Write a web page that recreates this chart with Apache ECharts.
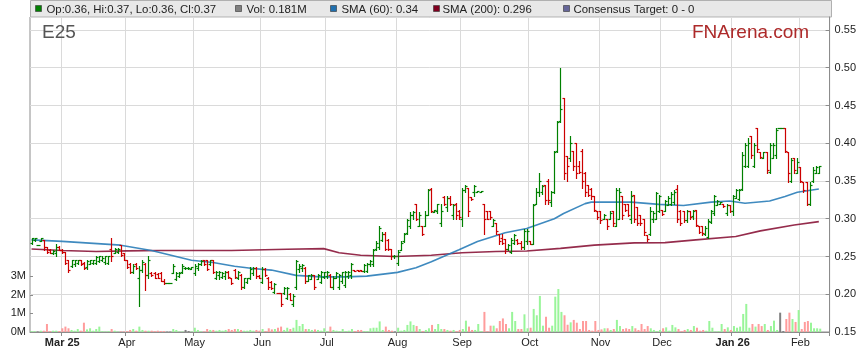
<!DOCTYPE html>
<html><head><meta charset="utf-8">
<script src="https://cdn.jsdelivr.net/npm/echarts@6/dist/echarts.min.js"></script>
<style>html,body{margin:0;padding:0;background:#fff}#c{width:859px;height:363px}</style>
</head><body><div id="c"></div>
<script>
const FONT = 'Liberation Sans, Arial, sans-serif';
const firstDay = '2025-02-17';
const slotCount = 260;
const tickLabels = ['Mar 25','Apr','May','Jun','Jul','Aug','Sep','Oct','Nov','Dec','Jan 26','Feb'];
const ticker = 'E25';
const brand = 'FNArena.com';
const legendItems = ['Op:0.36, Hi:0.37, Lo:0.36, Cl:0.37','Vol: 0.181M','SMA (60): 0.34','SMA (200): 0.296','Consensus Target: 0 - 0'];

// [open, high, low, close]
const bars = [
[.268,.275,.266,.274],[.272,.275,.270,.274],[.265,.265,.265,.265],[.270,.275,.270,.275],[.272,.272,.259,.262],
[.262,.263,.255,.256],[.258,.260,.254,.255],[.255,.258,.253,.257],[.254,.266,.250,.262],[.262,.264,.258,.259],
[.258,.260,.255,.256],[.256,.256,.240,.242],[.245,.246,.230,.232],[.238,.246,.236,.245],[.240,.246,.238,.245],
[.242,.246,.240,.245],[.245,.246,.239,.240],[.242,.243,.234,.235],[.236,.245,.234,.244],[.240,.246,.240,.245],
[.242,.246,.240,.245],[.242,.250,.240,.249],[.244,.250,.243,.250],[.245,.250,.244,.248],[.243,.250,.240,.250],
[.242,.251,.240,.250],[.260,.274,.244,.250],[.254,.261,.254,.260],[.256,.261,.255,.260],[.265,.265,.250,.252],
[.254,.255,.245,.246],[.246,.246,.235,.236],[.240,.241,.228,.230],[.230,.240,.228,.238],[.240,.241,.234,.235],
[.222,.237,.184,.232],[.232,.245,.230,.243],[.240,.242,.205,.225],[.225,.250,.222,.245],[.228,.229,.224,.225],
[.228,.229,.221,.222],[.227,.228,.221,.222],[.228,.230,.217,.218],[.218,.220,.214,.215],[.215,.215,.215,.215],
[.215,.215,.215,.215],[.228,.240,.228,.238],[.220,.230,.219,.228],[.224,.230,.223,.228],[.230,.240,.228,.238],
[.235,.236,.234,.235],[.235,.236,.234,.235],[.234,.236,.234,.236],[.228,.240,.226,.238],[.235,.241,.232,.240],
[.240,.245,.239,.244],[.245,.246,.239,.240],[.245,.246,.232,.234],[.240,.246,.239,.245],[.245,.246,.228,.230],
[.222,.231,.220,.230],[.225,.231,.220,.230],[.223,.229,.221,.228],[.224,.231,.220,.230],[.230,.231,.222,.223],
[.222,.222,.214,.215],[.232,.233,.222,.223],[.222,.231,.220,.230],[.226,.227,.207,.209],[.210,.222,.208,.221],
[.216,.222,.215,.222],[.222,.236,.220,.234],[.228,.236,.226,.235],[.235,.236,.222,.224],[.224,.225,.222,.222],
[.216,.236,.215,.234],[.234,.235,.224,.226],[.222,.223,.207,.210],[.216,.217,.207,.208],[.203,.215,.201,.213],
[.202,.202,.201,.201],[.201,.202,.185,.187],[.201,.210,.200,.208],[.195,.210,.194,.208],[.200,.202,.192,.193],
[.187,.200,.185,.198],[.210,.246,.207,.244],[.234,.240,.229,.238],[.235,.240,.231,.239],[.235,.236,.215,.218],
[.218,.226,.217,.225],[.220,.227,.220,.226],[.225,.225,.207,.210],[.220,.227,.220,.226],[.216,.231,.215,.230],
[.223,.230,.222,.229],[.224,.231,.222,.230],[.226,.227,.209,.210],[.210,.224,.207,.222],[.222,.229,.221,.228],
[.210,.227,.207,.226],[.218,.230,.215,.229],[.212,.231,.209,.230],[.224,.231,.222,.230],[.225,.241,.222,.240],
[.232,.232,.231,.231],[.232,.232,.231,.231],[.232,.232,.231,.231],[.231,.240,.230,.239],[.231,.241,.230,.240],
[.240,.245,.238,.244],[.240,.260,.238,.258],[.260,.270,.259,.268],[.262,.290,.260,.288],[.272,.282,.270,.280],
[.280,.282,.259,.260],[.272,.273,.259,.260],[.260,.260,.247,.250],[.250,.252,.248,.250],[.242,.259,.239,.256],
[.259,.270,.258,.268],[.270,.281,.269,.280],[.281,.300,.280,.298],[.290,.309,.288,.305],[.305,.310,.300,.309],
[.320,.320,.299,.300],[.290,.309,.290,.305],[.290,.291,.279,.280],[.290,.310,.290,.305],[.305,.340,.305,.338],
[.339,.341,.309,.310],[.309,.311,.309,.311],[.310,.320,.308,.320],[.295,.320,.290,.310],[.329,.330,.318,.320],
[.315,.330,.310,.328],[.328,.330,.318,.320],[.305,.320,.300,.318],[.320,.321,.300,.305],[.310,.311,.300,.302],
[.300,.341,.290,.338],[.338,.345,.336,.343],[.341,.341,.303,.310],[.329,.329,.325,.326],[.335,.345,.330,.344],
[.336,.337,.336,.337],[.336,.337,.336,.337],[.320,.320,.280,.300],[.310,.310,.300,.300],[.310,.310,.300,.302],
[.290,.300,.290,.298],[.295,.295,.280,.284],[.280,.280,.266,.270],[.275,.280,.266,.268],[.273,.273,.255,.260],
[.260,.266,.259,.265],[.256,.275,.255,.272],[.268,.280,.266,.278],[.272,.273,.266,.268],[.268,.270,.260,.262],
[.262,.286,.260,.284],[.270,.286,.266,.284],[.270,.270,.266,.266],[.266,.320,.266,.318],[.320,.341,.320,.336],
[.335,.361,.330,.350],[.335,.345,.333,.343],[.345,.345,.320,.325],[.350,.352,.320,.325],[.322,.337,.317,.335],
[.336,.390,.334,.388],[.390,.430,.388,.428],[.430,.500,.428,.445],[.460,.460,.352,.360],[.383,.383,.350,.370],
[.380,.410,.376,.400],[.390,.390,.365,.370],[.400,.400,.354,.360],[.370,.376,.361,.362],[.390,.392,.341,.350],
[.360,.362,.330,.335],[.345,.345,.330,.332],[.340,.341,.326,.330],[.330,.330,.310,.312],[.310,.310,.300,.302],
[.310,.310,.295,.298],[.300,.306,.300,.305],[.300,.300,.286,.290],[.300,.310,.300,.308],[.310,.310,.290,.295],
[.290,.341,.290,.338],[.300,.341,.300,.335],[.330,.330,.300,.305],[.320,.320,.310,.312],[.320,.320,.303,.305],
[.300,.337,.295,.330],[.332,.332,.296,.300],[.316,.316,.292,.295],[.305,.305,.292,.295],[.300,.300,.279,.282],
[.279,.279,.270,.273],[.280,.316,.279,.310],[.300,.310,.296,.308],[.300,.336,.300,.334],[.310,.332,.309,.330],
[.312,.312,.305,.306],[.310,.325,.310,.323],[.318,.330,.318,.328],[.320,.336,.318,.333],[.322,.338,.320,.336],
[.340,.345,.296,.300],[.310,.312,.292,.295],[.310,.310,.296,.298],[.298,.312,.296,.310],[.310,.310,.300,.302],
[.304,.312,.300,.310],[.312,.312,.290,.292],[.290,.290,.281,.283],[.290,.290,.279,.281],[.280,.290,.279,.288],
[.276,.300,.274,.297],[.296,.312,.294,.310],[.307,.332,.305,.330],[.318,.325,.318,.324],[.320,.322,.320,.322],
[.320,.320,.316,.317],[.308,.320,.305,.318],[.318,.318,.309,.310],[.310,.332,.305,.330],[.328,.340,.327,.338],
[.326,.340,.325,.338],[.340,.389,.338,.385],[.370,.400,.369,.398],[.370,.407,.369,.400],[.409,.409,.380,.385],
[.370,.400,.369,.398],[.420,.420,.389,.392],[.389,.389,.380,.382],[.380,.389,.380,.388],[.389,.389,.360,.365],
[.362,.400,.360,.398],[.380,.400,.380,.398],[.385,.420,.380,.418],[.420,.420,.420,.420],[.420,.420,.420,.420],
[.420,.420,.389,.390],[.389,.389,.349,.360],[.350,.380,.349,.378],[.380,.380,.360,.365],[.360,.380,.360,.375],
[.369,.369,.349,.350],[.349,.349,.336,.338],[.349,.349,.318,.320],[.320,.349,.318,.345],[.350,.369,.349,.365],
[.360,.370,.360,.368],[.360,.370,.360,.370]
];

// volume, millions
const volume = [
.05,.05,.03,.07,.07,.43,.05,.07,.07,.05,
.2,.29,.2,.11,.07,.16,.07,.5,.14,.2,
.07,.16,.29,.05,.03,.05,.16,.07,.03,.03,
.03,.05,.11,.16,.07,.29,.11,.07,.07,.07,
.05,.07,.05,.05,.02,.02,.16,.11,.03,.03,
.11,.05,.03,.23,.11,.03,.03,.16,.11,.11,
.07,.11,.07,.11,.16,.11,.16,.16,.11,.07,
.07,.11,.07,.11,.07,.16,.05,.2,.14,.16,
.23,.29,.11,.23,.16,.23,.65,.32,.43,.16,
.16,.11,.14,.11,.07,.2,.05,.29,.11,.07,
.05,.16,.05,.07,.16,.05,.11,.11,.05,.05,
.2,.23,.23,.57,.11,.29,.11,.07,.03,.23,
.07,.11,.38,.57,.38,.32,.16,.05,.11,.2,
.38,.16,.43,.16,.16,.11,.07,.11,.05,.11,
.16,.61,.29,.11,.11,.43,.05,1.08,.05,.34,
.34,.2,.59,.73,.43,.2,1.08,.59,.16,.16,
.95,.2,.23,1.24,.9,1.94,.34,.82,.23,.34,
1.9,2.31,1.08,.9,.39,.52,.65,.5,.16,.59,
.59,.11,.07,.59,.11,.14,.2,.2,.11,.16,
.65,.32,.16,.2,.16,.32,.2,.11,.43,.16,
.32,.2,.11,.05,.11,.2,.25,.07,.38,.25,
.16,.05,.11,.16,.11,.32,.23,.07,.11,.07,
.59,.23,.03,.05,.43,.16,.25,.11,.32,.23,
.29,.97,1.51,.23,.43,.29,.43,.32,.43,.11,
.32,.61,.11,1.04,.05,.7,1.04,.7,.54,1.18,
.16,.54,.59,.5,.2,.2,.18
];

// moving averages: [bar index, value]
const sma60 = [[0,.272],[10,.270],[29,.265],[39,.258],[44,.253],[47,.250],[52,.245],[59,.242],[66,.237],[72,.234],[78,.232],[86,.225],[94,.223],[102,.223],[109,.224],[119,.229],[125,.235],[130,.243],[139,.259],[145,.270],[154,.2815],[161,.287],[170,.300],[173,.307],[180,.320],[182,.322],[195,.322],[204,.319],[212,.3175],[221,.322],[227,.3236],[232,.3205],[240,.3236],[245,.3294],[249,.335],[256,.3395]];
const sma200 = [[0,.260],[10,.258],[21,.2566],[31,.2575],[42,.258],[65,.258],[83,.2595],[95,.2604],[100,.255],[107,.2516],[118,.250],[130,.2516],[140,.255],[151,.2567],[161,.2572],[172,.2608],[183,.265],[196,.268],[206,.2684],[216,.272],[229,.2764],[237,.2839],[248,.2918],[256,.2962]];

// trading-day categories
const categories = [];
{
  const d = new Date(firstDay + 'T00:00:00Z');
  while (categories.length < slotCount) {
    const wd = d.getUTCDay();
    if (wd !== 0 && wd !== 6) categories.push(d.toISOString().slice(0, 10));
    d.setUTCDate(d.getUTCDate() + 1);
  }
}
const labelAt = {};
{
  let k = 0;
  categories.forEach((c, i) => {
    if (i > 0 && c.slice(5, 7) !== categories[i - 1].slice(5, 7)) labelAt[i] = tickLabels[k++];
  });
}
const isMonth = (i) => labelAt[i] !== undefined;

const GREEN = '#008000', RED = '#cc0000';
const chart = echarts.init(document.getElementById('c'), null, {renderer: 'canvas'});

const legendX = [[35, 46.5], [235, 246.5], [330, 341.5], [433, 442.5], [563, 573.5]];
const legendCols = ['#008000', '#808080', '#1f6fae', '#800020', '#666699'];
const graphics = [
  {type: 'rect', shape: {x: 30.5, y: 0.5, width: 801, height: 16.5}, style: {fill: '#e8e8e8', stroke: '#b0b0b0', lineWidth: 1}, z: 0}
];
legendItems.forEach((t, k) => {
  graphics.push({type: 'rect', shape: {x: legendX[k][0] + 0.5, y: 5.5, width: 6, height: 6}, style: {fill: legendCols[k], stroke: '#333', lineWidth: 0.6}, z: 1});
  graphics.push({type: 'text', x: legendX[k][1], y: 9.5, style: {text: t, font: '11.4px ' + FONT, fill: '#222', verticalAlign: 'middle', align: 'left'}, z: 1});
});
graphics.push({type: 'text', x: 42, y: 33, style: {text: ticker, font: '19px ' + FONT, fill: '#555', verticalAlign: 'middle'}, z: 1});
graphics.push({type: 'text', x: 692, y: 33, style: {text: brand, font: '19px ' + FONT, fill: '#ad2a2a', verticalAlign: 'middle'}, z: 1});

const option = {
  animation: false,
  backgroundColor: '#fff',
  textStyle: {fontFamily: FONT},
  grid: [
    {left: 30, right: 28, top: 17, bottom: 31, show: true, borderColor: '#8c8c8c', borderWidth: 1, backgroundColor: 'transparent'},
    {left: 30, right: 28, top: 276.2, height: 55.8}
  ],
  xAxis: [
    {type: 'category', gridIndex: 0, data: categories, boundaryGap: true,
      axisLine: {show: true, lineStyle: {color: '#8c8c8c'}},
      axisTick: {show: true, interval: (i) => isMonth(i), length: 4, lineStyle: {color: '#8c8c8c'}},
      axisLabel: {interval: (i) => isMonth(i), margin: 5, fontSize: 11, color: '#222', fontFamily: FONT,
        formatter: (v, i) => { const s = labelAt[i] || ''; return s.indexOf(' ') > 0 ? '{b|' + s + '}' : s; },
        rich: {b: {fontWeight: 'bold', fontSize: 11, color: '#222', fontFamily: FONT}}},
      splitLine: {show: true, interval: (i) => isMonth(i), lineStyle: {color: '#dadada', width: 1}}},
    {type: 'category', gridIndex: 1, data: categories, boundaryGap: true, show: false}
  ],
  yAxis: [
    {type: 'value', gridIndex: 0, position: 'right', min: 0.15, max: 0.5672, interval: 0.05,
      axisLine: {show: true, lineStyle: {color: '#8c8c8c'}},
      axisTick: {show: true, inside: true, length: 4, lineStyle: {color: '#8c8c8c'}},
      axisLabel: {showMaxLabel: false, formatter: (v) => v.toFixed(2), margin: 5, fontSize: 11, color: '#222', fontFamily: FONT},
      splitLine: {show: true, lineStyle: {color: '#dadada', width: 1}}},
    {type: 'value', gridIndex: 1, position: 'left', min: 0, max: 3, interval: 1,
      axisLine: {show: false},
      axisTick: {show: true, inside: true, length: 3, lineStyle: {color: '#8c8c8c'}},
      axisLabel: {formatter: (v) => v + 'M', margin: 4, fontSize: 11, color: '#222', fontFamily: FONT},
      splitLine: {show: false}}
  ],
  graphic: graphics,
  series: [
    {type: 'bar', xAxisIndex: 1, yAxisIndex: 1, barWidth: 2, data: volume, z: 1,
      itemStyle: {color: (p) => { const b = bars[p.dataIndex]; return b[3] > b[0] ? '#99f599' : (b[3] < b[0] ? '#ff9c9c' : '#808080'); }}},
    {type: 'line', xAxisIndex: 0, yAxisIndex: 0, data: sma200, showSymbol: false, smooth: false, z: 2,
      lineStyle: {color: '#8a1538', width: 1.6, opacity: 0.9}},
    {type: 'line', xAxisIndex: 0, yAxisIndex: 0, data: sma60, showSymbol: false, smooth: false, z: 2,
      lineStyle: {color: '#2a7db8', width: 1.6, opacity: 0.9}},
    {type: 'custom', xAxisIndex: 0, yAxisIndex: 0, z: 3,
      data: bars.map((b, i) => [i, b[0], b[1], b[2], b[3]]),
      encode: {x: 0, y: [1, 2, 3, 4]},
      renderItem: (params, api) => {
        const i = api.value(0), o = api.value(1), h = api.value(2), l = api.value(3), c = api.value(4);
        const pH = api.coord([i, h]), pL = api.coord([i, l]), pO = api.coord([i, o]), pC = api.coord([i, c]);
        const x = Math.round(pH[0]) + 0.5;
        const col = c >= o ? GREEN : RED;
        const yo = Math.round(pO[1]) + 0.5, yc = Math.round(pC[1]) + 0.5;
        const st = {stroke: col, lineWidth: 1.2};
        return {type: 'group', children: [
          {type: 'line', shape: {x1: x, y1: Math.round(pH[1]), x2: x, y2: Math.round(pL[1]) + 1}, style: st},
          {type: 'line', shape: {x1: x - 2, y1: yo, x2: x, y2: yo}, style: st},
          {type: 'line', shape: {x1: x, y1: yc, x2: x + 2, y2: yc}, style: st}
        ]};
      }}
  ]
};
chart.setOption(option);
</script>
</body></html>
